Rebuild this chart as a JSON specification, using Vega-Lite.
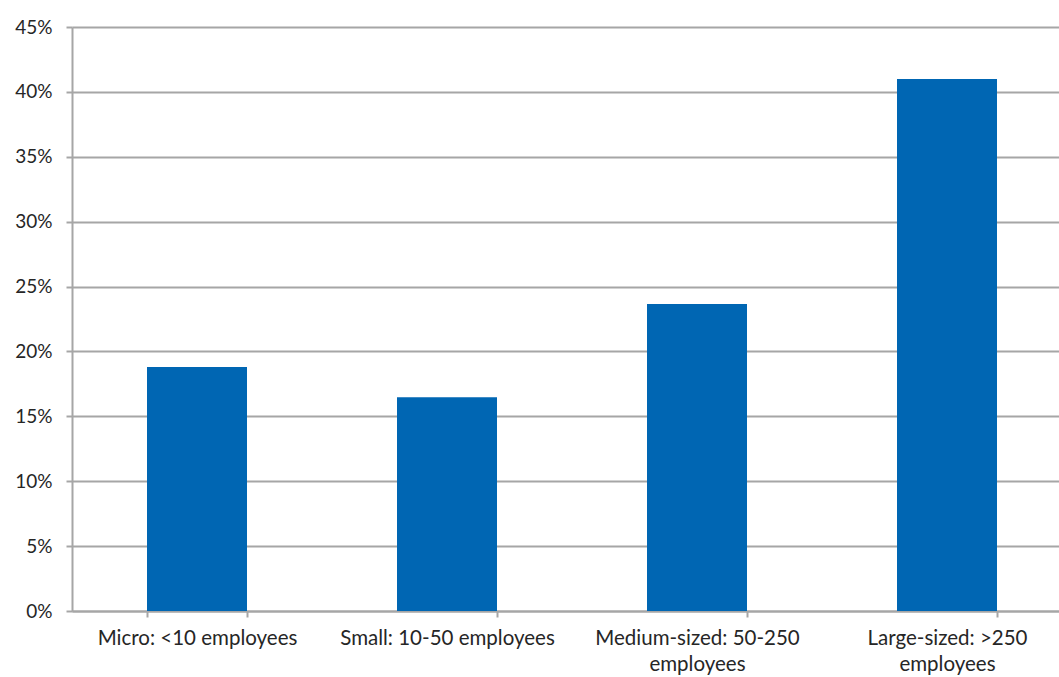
{
  "$schema": "https://vega.github.io/schema/vega-lite/v6.json",
  "autosize": "none",
  "padding": {"left": 72, "top": 27, "right": 0, "bottom": 66},
  "width": 1000,
  "height": 584,
  "background": "white",
  "config": {
    "view": {"stroke": null},
    "font": "Lato"
  },
  "data": {
    "values": [
      {"size": "Micro: <10 employees", "share": 0.188},
      {"size": "Small: 10-50 employees", "share": 0.1647},
      {"size": "Medium-sized: 50-250 employees", "share": 0.2365},
      {"size": "Large-sized: >250 employees", "share": 0.41}
    ]
  },
  "mark": {"type": "bar", "color": "#0066b3"},
  "encoding": {
    "x": {
      "field": "size",
      "type": "nominal",
      "sort": null,
      "scale": {"paddingInner": 0.6, "paddingOuter": 0.3},
      "axis": {
        "title": null,
        "labelAngle": 0,
        "labelFont": "Lato",
        "labelFontSize": 20.5,
        "labelColor": "#262626",
        "labelPadding": 11,
        "labelLineHeight": 26,
        "labelLimit": 400,
        "labelExpr": "datum.label == 'Medium-sized: 50-250 employees' ? ['Medium-sized: 50-250', 'employees'] : datum.label == 'Large-sized: >250 employees' ? ['Large-sized: >250', 'employees'] : datum.label",
        "tickBand": "extent",
        "tickSize": 6,
        "tickColor": "#a6a6a6",
        "tickWidth": 2,
        "domainColor": "#a6a6a6",
        "domainWidth": 2
      }
    },
    "y": {
      "field": "share",
      "type": "quantitative",
      "scale": {"domain": [0, 0.45], "nice": false},
      "axis": {
        "title": null,
        "values": [0, 0.05, 0.1, 0.15, 0.2, 0.25, 0.3, 0.35, 0.4, 0.45],
        "format": ".0%",
        "labelFont": "Lato",
        "labelFontSize": 19,
        "labelColor": "#262626",
        "labelPadding": 14,
        "tickSize": 6,
        "tickColor": "#a6a6a6",
        "tickWidth": 2,
        "domainColor": "#a6a6a6",
        "domainWidth": 2,
        "grid": true,
        "gridColor": "#a6a6a6",
        "gridWidth": 2
      }
    }
  }
}
